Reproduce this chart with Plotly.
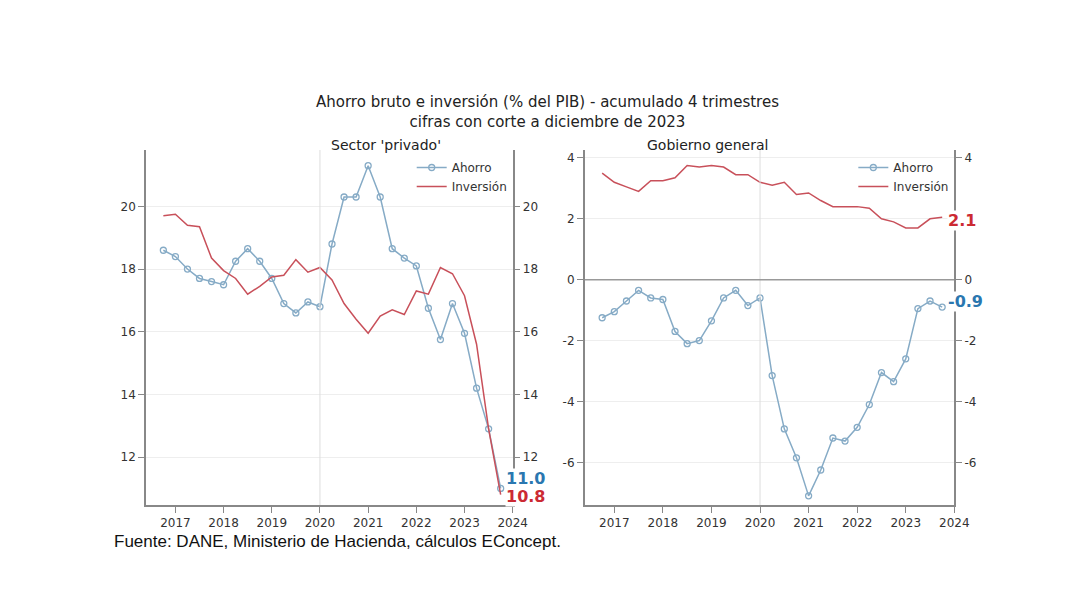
import plotly.graph_objects as go

quarters = [2016.75 + 0.25 * i for i in range(29)]
priv_ahorro = [18.6,18.4,18.0,17.7,17.6,17.5,18.25,18.65,18.25,17.7,16.9,16.6,16.95,16.8,18.8,20.3,20.3,21.3,20.3,18.65,18.35,18.1,16.75,15.75,16.9,15.95,14.2,12.9,11.0]
priv_inversion = [19.7,19.75,19.4,19.35,18.35,17.95,17.7,17.2,17.45,17.75,17.8,18.3,17.9,18.05,17.65,16.9,16.4,15.95,16.5,16.7,16.55,17.3,17.2,18.05,17.85,17.15,15.6,12.9,10.8]
gob_ahorro = [-1.25,-1.05,-0.7,-0.35,-0.6,-0.65,-1.7,-2.1,-2.0,-1.35,-0.6,-0.35,-0.85,-0.6,-3.15,-4.9,-5.85,-7.1,-6.25,-5.2,-5.3,-4.85,-4.1,-3.05,-3.35,-2.6,-0.95,-0.7,-0.9]
gob_inversion = [3.5,3.2,3.05,2.9,3.25,3.25,3.35,3.75,3.7,3.75,3.7,3.45,3.45,3.2,3.1,3.2,2.8,2.85,2.6,2.4,2.4,2.4,2.35,2.0,1.9,1.7,1.7,2.0,2.05]
x_ticks = [2017, 2018, 2019, 2020, 2021, 2022, 2023, 2024]
left_ticks = [12, 14, 16, 18, 20]
right_ticks = [-6, -4, -2, 0, 2, 4]
right_ticktext = [str(v) for v in right_ticks]

BLUE = "#86abc6"
RED = "#c8505a"
FONT = "DejaVu Sans"
W, H = 1053, 577


def fx(p):
    return (p - 8) / W


def fy(p):
    return 1 - (p - 8) / H


fig = go.Figure()
ahorro_style = dict(mode="lines+markers", line=dict(color=BLUE, width=1.5),
                    marker=dict(symbol="circle-open", size=6, color=BLUE, line=dict(width=1.3)))
inv_style = dict(mode="lines", line=dict(color=RED, width=1.5))

fig.add_trace(go.Scatter(x=quarters, y=priv_ahorro, name="Ahorro", xaxis="x", yaxis="y", legend="legend", **ahorro_style))
fig.add_trace(go.Scatter(x=quarters, y=priv_inversion, name="Inversión", xaxis="x", yaxis="y", legend="legend", **inv_style))
fig.add_trace(go.Scatter(x=quarters, y=gob_ahorro, name="Ahorro", xaxis="x2", yaxis="y2", legend="legend2", **ahorro_style))
fig.add_trace(go.Scatter(x=quarters, y=gob_inversion, name="Inversión", xaxis="x2", yaxis="y2", legend="legend2", **inv_style))
fig.add_trace(go.Scatter(x=[quarters[0]], y=[priv_ahorro[0]], xaxis="x", yaxis="y3", showlegend=False, mode="markers", marker=dict(opacity=0), hoverinfo="skip"))
fig.add_trace(go.Scatter(x=[quarters[0]], y=[gob_ahorro[0]], xaxis="x2", yaxis="y4", showlegend=False, mode="markers", marker=dict(opacity=0), hoverinfo="skip"))

yb, yt = fy(505), fy(150)
xr = [2016.39, 2024.0]
axis_common = dict(showline=True, linecolor="#888", linewidth=1.5, ticks="outside", ticklen=6,
                   tickcolor="#888", tickfont=dict(family=FONT, size=12, color="#333"), zeroline=False)
xcommon = dict(axis_common, range=xr, tickvals=x_ticks, showgrid=False)
fig.update_layout(
    width=W, height=H, margin=dict(l=0, r=0, t=0, b=0),
    paper_bgcolor="white", plot_bgcolor="white",
    xaxis=dict(xcommon, domain=[fx(148), fx(520)], anchor="y"),
    xaxis2=dict(xcommon, domain=[fx(593), fx(968)], anchor="y2"),
    yaxis=dict(axis_common, range=[10.47, 21.8], tickvals=left_ticks, domain=[yb, yt], anchor="x",
               showgrid=True, gridcolor="#eeeeee"),
    yaxis3=dict(axis_common, range=[10.47, 21.8], tickvals=left_ticks, overlaying="y", side="right", anchor="x", showgrid=False),
    yaxis2=dict(axis_common, range=[-7.4, 4.26], tickvals=right_ticks, ticktext=right_ticktext, domain=[yb, yt], anchor="x2",
                showgrid=True, gridcolor="#eeeeee"),
    yaxis4=dict(axis_common, range=[-7.4, 4.26], tickvals=right_ticks, ticktext=right_ticktext, overlaying="y2", side="right", anchor="x2", showgrid=False),
    legend=dict(x=fx(520), y=fy(153), xanchor="right", yanchor="top", bgcolor="rgba(0,0,0,0)",
                font=dict(family=FONT, size=12, color="#333")),
    legend2=dict(x=fx(968), y=fy(153), xanchor="right", yanchor="top", bgcolor="rgba(0,0,0,0)",
                 font=dict(family=FONT, size=12, color="#333")),
    showlegend=True,
)
for xa, ya in (("x", "y"), ("x2", "y2")):
    fig.add_shape(type="line", xref=xa, yref=f"{ya} domain", x0=2020, x1=2020, y0=0, y1=1,
                  line=dict(color="#dddddd", width=1))
fig.add_shape(type="line", xref="x2", yref="y2", x0=xr[0], x1=xr[1], y0=0, y1=0, line=dict(color="#999", width=1.5))

ann = [
    ("Ahorro bruto e inversión (% del PIB) - acumulado 4 trimestres<br>cifras con corte a diciembre de 2023", 555, 91, 15),
    ("Sector 'privado'", 334, 135, 14),
    ("Gobierno general", 781, 135, 14),
]
for text, px, py, size in ann:
    fig.add_annotation(text=text, x=fx(px), y=fy(py), xref="paper", yref="paper", showarrow=False,
                       font=dict(family=FONT, size=size, color="#222"))
fig.add_annotation(text="Fuente: DANE, Ministerio de Hacienda, cálculos EConcept.", x=fx(113), y=fy(553),
                   xref="paper", yref="paper", xanchor="left", showarrow=False,
                   font=dict(family="Liberation Sans", size=17, color="#111"))
labels = [("x", "y", "11.0", "#2a77b0", 11.3), ("x", "y", "10.8", "#cc2a33", 10.75),
          ("x2", "y2", "2.1", "#cc2a33", 1.95), ("x2", "y2", "-0.9", "#2a77b0", -0.7)]
for xa, ya, t, c, ypos in labels:
    fig.add_annotation(text=f"<b>{t}</b>", x=2023.85, y=ypos, xref=xa, yref=ya, xanchor="left",
                       showarrow=False, bgcolor="white", borderpad=0,
                       font=dict(family=FONT, size=16, color=c))
fig.write_html("out.html")
